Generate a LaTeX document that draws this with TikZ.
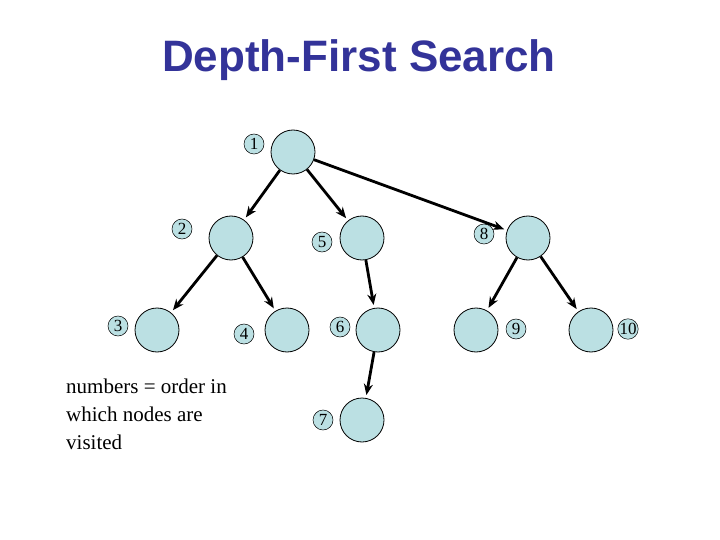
\documentclass[tikz,border=0pt]{standalone}
\usepackage{fontspec}
\setmainfont{Liberation Serif}
\newfontfamily\titlefont{Liberation Sans}
\usetikzlibrary{arrows.meta}
\definecolor{nodefill}{RGB}{187,224,227}
\definecolor{titleblue}{RGB}{51,51,153}
\begin{document}
\begin{tikzpicture}[x=1pt,y=-1pt,
  bignode/.style={circle,draw=black,fill=nodefill,minimum size=44pt,inner sep=0pt,line width=0.8pt},
  lab/.style={circle,draw=black,fill=nodefill,minimum size=20pt,inner sep=0pt,line width=0.5pt,font=\fontsize{17}{17}\selectfont},
  edge/.style={-{Stealth[length=11pt,width=9pt]},line width=2.8pt,shorten >=3pt}]
\useasboundingbox (0,0) rectangle (720,540);
\node[font=\titlefont\bfseries\fontsize{44}{44}\selectfont,text=titleblue] (title) at (359,60) {Depth-First Search};
\node[bignode] (n1) at (293,152) {};
\node[bignode] (n2) at (231,238) {};
\node[bignode] (n5) at (362,238) {};
\node[bignode] (n8) at (528,238) {};
\node[bignode] (n3) at (157,330) {};
\node[bignode] (n4) at (287,330) {};
\node[bignode] (n6) at (378,330) {};
\node[bignode] (n9) at (476,330) {};
\node[bignode] (n10) at (591,330) {};
\node[bignode] (n7) at (362,420) {};
\node[lab] (l1) at (254,144) {1};
\node[lab] (l2) at (182,229) {2};
\node[lab] (l5) at (322,242) {5};
\node[lab] (l8) at (484,234) {8};
\node[lab] (l3) at (118,326) {3};
\node[lab] (l4) at (244,334) {4};
\node[lab] (l6) at (340,327) {6};
\node[lab] (l9) at (516,329) {9};
\node[lab] (l10) at (628,329) {10};
\node[lab] (l7) at (323,420) {7};
\draw[edge] (n1) -- (n2);
\draw[edge] (n1) -- (n5);
\draw[edge] (n1) -- (n8);
\draw[edge] (n2) -- (n3);
\draw[edge] (n2) -- (n4);
\draw[edge] (n5) -- (n6);
\draw[edge] (n8) -- (n9);
\draw[edge] (n8) -- (n10);
\draw[edge] (n6) -- (n7);
\node[anchor=north west,align=left,font=\fontsize{21}{28}\selectfont,inner sep=0pt] (note) at (66,379) {numbers = order in\\which nodes are\\visited};
\end{tikzpicture}
\end{document}
